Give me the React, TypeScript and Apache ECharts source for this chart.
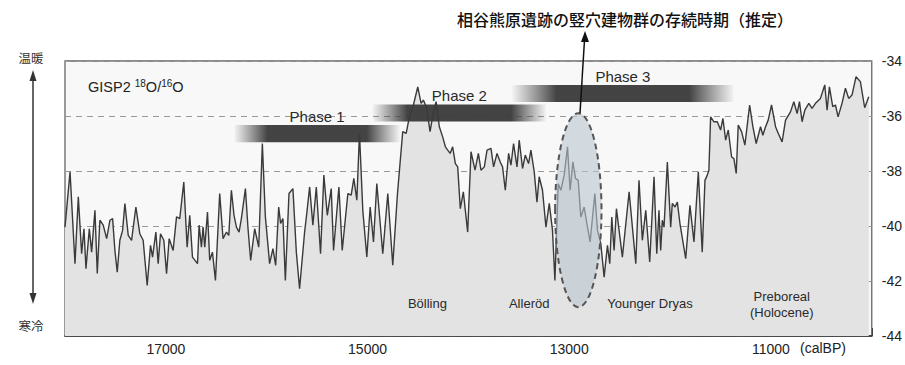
import React, { useEffect, useRef } from 'react';
import * as echarts from 'echarts';

// GISP2 δ18O record (calBP years, per-mil)
const years = [
  18000, 17950, 17901, 17868, 17835, 17812, 17792, 17759, 17736, 17703,
  17680, 17654, 17621, 17587, 17554, 17528, 17505, 17482, 17456, 17429,
  17406, 17373, 17340, 17297, 17258, 17225, 17185, 17152, 17132, 17099,
  17076, 17053, 17020, 16993, 16967, 16928, 16894, 16862, 16822, 16789,
  16763, 16736, 16686, 16670, 16647, 16631, 16614, 16587, 16565, 16538,
  16508, 16466, 16433, 16399, 16376, 16350, 16324, 16300, 16274, 16251,
  16211, 16185, 16159, 16119, 16079, 16043, 16013, 15971, 15938, 15911,
  15881, 15862, 15839, 15815, 15779, 15740, 15706, 15674, 15624, 15601,
  15574, 15542, 15508, 15466, 15433, 15399, 15360, 15337, 15284, 15251,
  15195, 15162, 15136, 15106, 15080, 15047, 15007, 14974, 14941, 14908,
  14849, 14799, 14750, 14703, 14651, 14617, 14585, 14545, 14502, 14469,
  14446, 14413, 14380, 14347, 14320, 14288, 14255, 14228, 14205, 14181,
  14156, 14129, 14106, 14080, 14050, 14007, 13974, 13934, 13901, 13875,
  13842, 13815, 13776, 13750, 13716, 13684, 13661, 13634, 13601, 13578,
  13552, 13518, 13496, 13463, 13436, 13403, 13380, 13347, 13320, 13298,
  13265, 13231, 13198, 13166, 13142, 13109, 13083, 13050, 13017, 12991,
  12964, 12938, 12911, 12885, 12852, 12825, 12793, 12746, 12720, 12687,
  12654, 12621, 12598, 12578, 12555, 12532, 12473, 12406, 12340, 12308,
  12275, 12241, 12202, 12159, 12132, 12110, 12093, 12077, 12060, 12027,
  11994, 11978, 11951, 11928, 11902, 11845, 11803, 11763, 11720, 11681,
  11654, 11631, 11615, 11598, 11565, 11532, 11499, 11476, 11449, 11423,
  11390, 11367, 11344, 11324, 11291, 11258, 11211, 11179, 11146, 11103,
  11080, 11053, 11027, 10994, 10954, 10928, 10889, 10855, 10806, 10773,
  10740, 10717, 10691, 10664, 10624, 10592, 10558, 10509, 10466, 10443,
  10420, 10387, 10360, 10334, 10295, 10261, 10229, 10196, 10156, 10113,
  10070, 10030
];
const values = [
  -40.04, -38.03, -41.37, -38.94, -41.01, -40.10, -41.55, -40.10, -40.95, -39.43,
  -41.73, -39.79, -39.97, -40.46, -39.79, -39.73, -40.89, -41.68, -40.52, -40.16,
  -39.18, -40.34, -40.52, -39.31, -40.28, -40.52, -42.16, -40.70, -41.13, -40.22,
  -41.37, -40.28, -40.52, -41.73, -40.46, -40.89, -39.67, -39.73, -38.40, -40.77,
  -39.61, -41.13, -41.37, -39.97, -40.77, -40.04, -40.77, -39.49, -41.25, -40.95,
  -41.98, -38.82, -40.46, -40.22, -40.34, -38.70, -39.61, -40.04, -40.22, -39.73,
  -38.64, -40.10, -41.25, -40.10, -40.77, -37.00, -39.67, -41.37, -40.82, -41.43,
  -39.31, -39.91, -39.73, -41.98, -38.82, -38.64, -40.95, -42.28, -40.22, -39.49,
  -38.58, -39.97, -38.58, -41.01, -38.15, -39.61, -38.64, -40.89, -38.58, -40.89,
  -38.82, -38.88, -38.27, -39.06, -36.63, -39.43, -41.13, -39.31, -40.58, -38.46,
  -41.01, -38.82, -41.43, -38.82, -36.57, -36.63, -36.03, -35.60, -34.94, -35.54,
  -35.42, -35.72, -36.57, -35.85, -35.48, -36.39, -36.76, -37.12, -37.24, -37.36,
  -37.12, -37.73, -37.85, -39.37, -38.76, -40.22, -37.30, -37.97, -37.36, -37.97,
  -37.85, -37.24, -37.18, -37.85, -37.36, -37.67, -37.85, -38.70, -37.36, -37.79,
  -37.00, -37.85, -36.88, -37.91, -37.42, -37.73, -37.24, -38.03, -39.13, -38.21,
  -38.70, -40.04, -39.18, -40.16, -41.98, -38.46, -38.70, -38.15, -37.12, -38.70,
  -37.67, -38.27, -38.34, -39.67, -39.31, -39.91, -40.58, -38.82, -40.16, -40.64,
  -41.86, -40.70, -41.37, -39.67, -40.89, -39.37, -41.13, -38.76, -41.37, -38.34,
  -40.52, -39.43, -41.31, -38.21, -41.01, -39.43, -40.89, -39.79, -40.04, -37.67,
  -40.04, -39.18, -39.31, -39.13, -39.91, -41.19, -39.25, -40.58, -38.03, -40.95,
  -38.34, -38.15, -37.97, -36.03, -36.21, -36.21, -36.51, -36.09, -36.88, -36.51,
  -37.49, -37.55, -38.09, -36.33, -36.57, -37.06, -35.60, -36.39, -37.00, -36.39,
  -36.70, -36.39, -36.15, -35.60, -36.39, -36.63, -36.94, -36.15, -35.85, -35.48,
  -35.91, -35.48, -36.21, -35.79, -35.54, -35.72, -35.54, -35.36, -34.87, -35.79,
  -34.94, -35.66, -35.60, -36.03, -35.54, -34.99, -35.36, -35.24, -34.57, -34.75,
  -35.70, -35.30
];

// X axis labelled years
const xLabelYears = [17000, 15000, 13000, 11000];

// Phases (settlement phases, year ranges and their plotted level)
const phaseNames = ['Phase 1', 'Phase 2', 'Phase 3'];
const phaseStart = [16320, 14950, 13565];
const phaseEnd = [14680, 13230, 11370];
const phaseLevel = [-36.64, -35.89, -35.18];

// Climatic periods
const periodNames = ['Bölling', 'Alleröd', 'Younger Dryas', 'Preboreal\n(Holocene)'];
const periodYears = [14406, 13397, 12199, 10892];
const periodLevel = [-42.8, -42.8, -42.8, -42.84];

// Estimated existence period of the pit dwellings (ellipse)
const siteYears = [13140, 12680];
const siteValues = [-35.9, -42.95];

const LATIN = '"Liberation Sans", Arial, sans-serif';
const CJK = '"Noto Sans CJK JP", "Noto Sans CJK SC", sans-serif';

export default function App() {
  const ref = useRef<HTMLDivElement>(null);

  useEffect(() => {
    if (!ref.current) return;
    const chart = echarts.init(ref.current, undefined, { renderer: 'svg' });

    const linePts = years.map((y, i) => [y, values[i]]);
    const phaseData = phaseNames.map((n, i) => [phaseStart[i], phaseEnd[i], phaseLevel[i]]);
    const periodData = periodNames.map((n, i) => [periodYears[i], periodLevel[i]]);

    chart.setOption({
      animation: false,
      textStyle: { fontFamily: LATIN },
      grid: {
        left: 65,
        right: 32,
        top: 61,
        bottom: 29,
        show: true,
        borderColor: '#666',
        borderWidth: 1.3,
        backgroundColor: '#f8f8f8',
      },
      xAxis: {
        type: 'value',
        min: 10000,
        max: 18000,
        interval: 1000,
        inverse: true,
        axisLine: { show: true, lineStyle: { color: '#333', width: 1.6 } },
        axisTick: { show: true, inside: true, length: 8, lineStyle: { color: '#444', width: 1 } },
        splitLine: { show: false },
        axisLabel: {
          color: '#222',
          fontSize: 14,
          margin: 6,
          formatter: (v: number) => (xLabelYears.includes(v) ? String(v) : ''),
        },
      },
      yAxis: {
        type: 'value',
        position: 'right',
        min: -44,
        max: -34,
        interval: 2,
        axisLine: { show: false },
        axisTick: { show: false },
        axisLabel: { color: '#222', fontSize: 14, margin: 10, padding: [0, 0, 5, 0] },
        splitLine: { show: true, lineStyle: { color: '#9a9a9a', type: [6, 5], width: 1.2 } },
      },
      series: [
        {
          type: 'line',
          data: linePts,
          showSymbol: false,
          silent: true,
          z: 1,
          lineStyle: { width: 0, opacity: 0 },
          areaStyle: { color: '#e3e3e3', opacity: 1, origin: 'start' },
        },
        {
          type: 'custom',
          z: 3,
          silent: true,
          data: phaseData,
          encode: { x: [0, 1], y: 2 },
          renderItem: (params: any, api: any) => {
            const i = params.dataIndex;
            const s = api.coord([api.value(0), api.value(2)]);
            const e = api.coord([api.value(1), api.value(2)]);
            const h = api.size([0, 0.62])[1];
            const x0 = Math.min(s[0], e[0]);
            const w = Math.abs(e[0] - s[0]);
            return {
              type: 'group',
              children: [
                {
                  type: 'rect',
                  shape: { x: x0, y: s[1] - h / 2, width: w, height: h },
                  style: {
                    fill: new echarts.graphic.LinearGradient(0, 0, 1, 0, [
                      { offset: 0, color: 'rgba(70,70,70,0.03)' },
                      { offset: 0.2, color: 'rgba(58,58,58,0.95)' },
                      { offset: 0.8, color: 'rgba(58,58,58,0.95)' },
                      { offset: 1, color: 'rgba(70,70,70,0.03)' },
                    ]),
                  },
                },
                {
                  type: 'text',
                  style: {
                    text: phaseNames[i],
                    x: x0 + w / 2,
                    y: s[1] - h / 2 - 1,
                    align: 'center',
                    verticalAlign: 'bottom',
                    fontSize: 15,
                    fontFamily: LATIN,
                    fill: '#2a2a2a',
                  },
                },
              ],
            };
          },
        },
        {
          type: 'line',
          data: linePts,
          showSymbol: false,
          silent: true,
          z: 4,
          lineStyle: { color: '#3a3a3a', width: 1.4 },
        },
        {
          type: 'custom',
          z: 5,
          silent: true,
          data: [[siteYears[0], siteValues[0], siteYears[1], siteValues[1]]],
          encode: { x: [0, 2], y: [1, 3] },
          renderItem: (params: any, api: any) => {
            const a = api.coord([api.value(0), api.value(1)]);
            const b = api.coord([api.value(2), api.value(3)]);
            return {
              type: 'ellipse',
              shape: {
                cx: (a[0] + b[0]) / 2,
                cy: (a[1] + b[1]) / 2,
                rx: Math.abs(b[0] - a[0]) / 2,
                ry: Math.abs(b[1] - a[1]) / 2,
              },
              style: {
                fill: 'rgba(185,196,206,0.6)',
                stroke: '#555',
                lineWidth: 2,
                lineDash: [6, 4],
              },
            };
          },
        },
        {
          type: 'custom',
          z: 5,
          silent: true,
          data: periodData,
          encode: { x: 0, y: 1 },
          renderItem: (params: any, api: any) => {
            const p = api.coord([api.value(0), api.value(1)]);
            return {
              type: 'text',
              style: {
                text: periodNames[params.dataIndex],
                x: p[0],
                y: p[1],
                align: 'center',
                verticalAlign: 'middle',
                fontSize: 13,
                lineHeight: 16,
                fontFamily: LATIN,
                fill: '#2a2a2a',
              },
            };
          },
        },
      ],
      graphic: [
        {
          type: 'text',
          z: 10,
          style: {
            text: '相谷熊原遺跡の竪穴建物群の存続時期（推定）',
            x: 625,
            y: 19,
            align: 'center',
            verticalAlign: 'middle',
            fontSize: 16,
            fontWeight: 500,
            fontFamily: CJK,
            fill: '#111',
          },
        },
        {
          type: 'line',
          z: 10,
          shape: { x1: 580, y1: 113, x2: 584.5, y2: 40 },
          style: { stroke: '#111', lineWidth: 1.5 },
        },
        {
          type: 'polygon',
          z: 10,
          shape: { points: [[585, 31], [581, 42], [589, 42]] },
          style: { fill: '#111' },
        },
        {
          type: 'text',
          z: 10,
          style: {
            text: '{a|GISP2 }{s|18}{a|O/}{s|16}{a|O}',
            x: 88,
            y: 87,
            verticalAlign: 'middle',
            fontFamily: LATIN,
            rich: {
              a: { fontSize: 14.5, fill: '#222', fontFamily: LATIN },
              s: { fontSize: 10, fill: '#222', fontFamily: LATIN, padding: [0, 0, 7, 0] },
            },
          },
        },
        {
          type: 'text',
          z: 10,
          style: {
            text: '(calBP)',
            x: 800,
            y: 348,
            align: 'left',
            verticalAlign: 'middle',
            fontSize: 14,
            fontFamily: LATIN,
            fill: '#222',
          },
        },
        {
          type: 'text',
          z: 10,
          style: {
            text: '温暖',
            x: 31,
            y: 57,
            align: 'center',
            verticalAlign: 'middle',
            fontSize: 12.5,
            fontFamily: CJK,
            fill: '#333',
          },
        },
        {
          type: 'text',
          z: 10,
          style: {
            text: '寒冷',
            x: 31,
            y: 325,
            align: 'center',
            verticalAlign: 'middle',
            fontSize: 12.5,
            fontFamily: CJK,
            fill: '#333',
          },
        },
        {
          type: 'line',
          z: 10,
          shape: { x1: 33, y1: 78, x2: 33, y2: 296 },
          style: { stroke: '#333', lineWidth: 1.5 },
        },
        {
          type: 'polygon',
          z: 10,
          shape: { points: [[33, 70], [29.5, 81], [36.5, 81]] },
          style: { fill: '#333' },
        },
        {
          type: 'polygon',
          z: 10,
          shape: { points: [[33, 304], [29.5, 293], [36.5, 293]] },
          style: { fill: '#333' },
        },
      ],
    });

    return () => chart.dispose();
  }, []);

  return (
    <div
      ref={ref}
      style={{ position: 'absolute', left: 0, top: 0, width: 905, height: 365, background: '#fff' }}
    />
  );
}
